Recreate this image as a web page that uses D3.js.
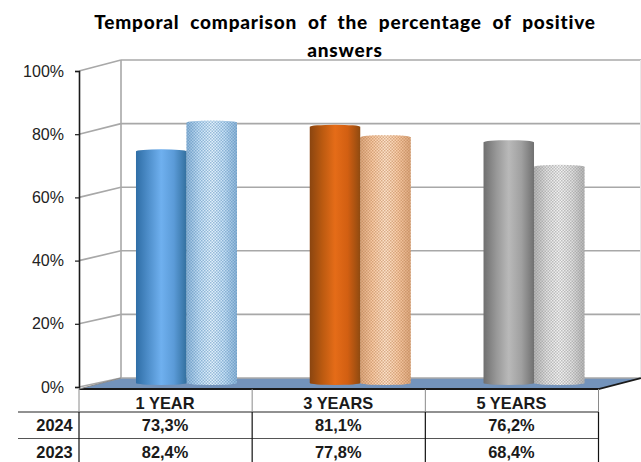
<!DOCTYPE html>
<html>
<head>
<meta charset="utf-8">
<script src="https://cdn.jsdelivr.net/npm/d3@7"></script>
<style>
body { margin: 0; background: #fff; }
svg { display: block; font-family: "Liberation Sans", Arial, sans-serif; }
</style>
</head>
<body>
<script>
// data
const categories = ['1 YEAR', '3 YEARS', '5 YEARS'];
const years = ['2024', '2023'];
const values2024 = [73.3, 81.1, 76.2];
const values2023 = [82.4, 77.8, 68.4];
const yTicks = [0, 20, 40, 60, 80, 100];
const titleLines = ['Temporal comparison of the percentage of positive', 'answers'];

const w = 641;
const h = 462;

const svg = d3.select('body').append('svg').attr('width', w).attr('height', h);
const defs = svg.append('defs');

// scales: front plane, back wall, and the plane the cylinders stand in
const xFront = d3.scaleBand().domain(categories).range([79, 598.5]);
const yFront = d3.scaleLinear().domain([0, 100]).range([387, 71]);
const yBack = d3.scaleLinear().domain([0, 100]).range([378, 60]);
const yBar = d3.scaleLinear().domain([0, 100]).range([383, 67]);
const xBar = d3.scaleBand().domain(categories).range([99.6, 620.9]);
const xInner = d3.scaleBand().domain(years).range([0, 101]);

const backLeft = 121;
const backRight = 641;

// gradients and dot patterns
const solidColors = [
  ['#2f6ea6', '#4f8fcb', '#6fb0ef', '#5b9bd8', '#33709f'],
  ['#8a4510', '#bb5a10', '#e56c18', '#d25f12', '#8f4a10'],
  ['#6f6f6f', '#979797', '#b9b9b9', '#a0a0a0', '#707070']
];
const lightColors = [
  ['#8fb6d8', '#c6e0f5', '#e4f2fc', '#c6e0f5', '#8fb6d8'],
  ['#dba77e', '#f8cba6', '#fde3cc', '#f8cba6', '#dba77e'],
  ['#b5b5b5', '#e0e0e0', '#f3f3f3', '#e0e0e0', '#b5b5b5']
];
const dotColors = ['#4f86b5', '#b5794a', '#8c8c8c'];

function addGradient(id, stops) {
  const g = defs.append('linearGradient').attr('id', id).attr('x1', 0).attr('x2', 1).attr('y1', 0).attr('y2', 0);
  stops.forEach((c, i) => g.append('stop').attr('offset', i / (stops.length - 1)).attr('stop-color', c));
}
solidColors.forEach((s, i) => addGradient('solid' + i, s));
lightColors.forEach((s, i) => addGradient('light' + i, s));
dotColors.forEach((c, i) => {
  const p = defs.append('pattern').attr('id', 'dots' + i).attr('patternUnits', 'userSpaceOnUse')
    .attr('width', 3).attr('height', 3);
  p.append('rect').attr('x', 0).attr('y', 0).attr('width', 1.5).attr('height', 1.5).attr('fill', c).attr('opacity', 0.5);
  p.append('rect').attr('x', 1.5).attr('y', 1.5).attr('width', 1.5).attr('height', 1.5).attr('fill', c).attr('opacity', 0.5);
});

// floor
const floor = d3.path();
floor.moveTo(79, yFront(0) + 2);
floor.lineTo(backLeft, yBack(0));
floor.lineTo(backRight, yBack(0));
floor.lineTo(598.5, yFront(0) + 2);
floor.closePath();
svg.append('path').attr('d', floor.toString()).attr('fill', '#7393bb');

// grid on the back wall and side wall
const grid = svg.append('g').attr('stroke', '#a8a8a8').attr('stroke-width', 1.6).attr('fill', 'none');
grid.selectAll('.back').data(yTicks).enter().append('line')
  .attr('x1', backLeft).attr('x2', backRight)
  .attr('y1', d => yBack(d)).attr('y2', d => yBack(d));
grid.selectAll('.side').data(yTicks).enter().append('line')
  .attr('x1', 79).attr('x2', backLeft)
  .attr('y1', d => yFront(d)).attr('y2', d => yBack(d));
grid.append('line').attr('x1', backLeft).attr('x2', backLeft).attr('y1', yBack(100)).attr('y2', yBack(0));
grid.append('line').attr('x1', 640.5).attr('x2', 640.5).attr('y1', yBack(100)).attr('y2', yBack(0))
  .attr('stroke', '#e8e8e8').attr('stroke-width', 1);

// cylinders
const ry = 2;
function cylinder(x0, x1, yTop, yBottom) {
  const rx = (x1 - x0) / 2;
  return `M${x0},${yTop}A${rx},${ry} 0 0 1 ${x1},${yTop}L${x1},${yBottom}A${rx},${ry} 0 0 1 ${x0},${yBottom}Z`;
}
const series = [
  { year: '2024', values: values2024, fill: i => `url(#solid${i})` },
  { year: '2023', values: values2023, fill: i => `url(#light${i})` }
];
// 2023 goes first, the 2024 cylinder overlaps it by a pixel
[series[1], series[0]].forEach(s => {
  const g = svg.append('g').attr('class', 'series-' + s.year);
  const cx0 = (d, i) => xBar(categories[i]) + (xBar.bandwidth() - 101) / 2 + xInner(s.year);
  g.selectAll('path.body').data(s.values).enter().append('path').attr('class', 'body')
    .attr('d', (d, i) => cylinder(cx0(d, i), cx0(d, i) + xInner.bandwidth(), yBar(d), yBar(0)))
    .attr('fill', (d, i) => s.fill(i));
  if (s.year === '2023') {
    g.selectAll('path.dots').data(s.values).enter().append('path').attr('class', 'dots')
      .attr('d', (d, i) => cylinder(cx0(d, i), cx0(d, i) + xInner.bandwidth(), yBar(d), yBar(0)))
      .attr('fill', (d, i) => `url(#dots${i})`);
  }
});

// axis drawn by d3, ticks reach left from the front corner
const yAxis = d3.axisLeft(yFront).tickValues(yTicks).tickFormat(d => d + '%').tickSize(4).tickPadding(11);
const axisG = svg.append('g').attr('transform', 'translate(79,0)').call(yAxis);
axisG.select('.domain').attr('stroke', '#1a1a1a').attr('stroke-width', 1.6);
axisG.selectAll('.tick line').attr('stroke', '#1a1a1a').attr('stroke-width', 1.2);
axisG.selectAll('.tick text').attr('fill', '#222').style('font-size', '16px').style('font-family', '"Liberation Sans", Arial, sans-serif');

// floor front edge
const edge = d3.path();
edge.moveTo(79, 389);
edge.lineTo(598.5, 389);
edge.lineTo(backRight, yBack(0));
svg.append('path').attr('d', edge.toString()).attr('fill', 'none').attr('stroke', '#1a1a1a').attr('stroke-width', 1.8);
svg.append('line').attr('x1', 79).attr('x2', backLeft).attr('y1', 389).attr('y2', yBack(0))
  .attr('stroke', '#8a8a8a').attr('stroke-width', 1);

// data table
const rowY = d3.scaleOrdinal().domain(['head'].concat(years)).range([389, 412, 438.5]);
const tableBottom = h;
const table = svg.append('g').attr('class', 'table');

// row rules
table.selectAll('.rule').data(years).enter().append('line')
  .attr('x1', 18).attr('x2', 598.5)
  .attr('y1', d => rowY(d)).attr('y2', d => rowY(d))
  .attr('stroke', (d, i) => i === 0 ? '#222' : '#555').attr('stroke-width', 1);

// column rules
const colEdges = [79].concat(categories.map(c => xFront(c) + xFront.bandwidth()));
table.selectAll('.colHead').data(colEdges).enter().append('line')
  .attr('x1', d => d).attr('x2', d => d).attr('y1', 389).attr('y2', 412)
  .attr('stroke', '#8a8a8a').attr('stroke-width', 1);
table.selectAll('.colBody').data(colEdges).enter().append('line')
  .attr('x1', d => d).attr('x2', d => d).attr('y1', 412).attr('y2', tableBottom)
  .attr('stroke', '#111').attr('stroke-width', 1.2);

const cell = table.append('g').attr('font-weight', 'bold').attr('font-size', '16.4px')
  .attr('fill', '#1a1a1a').attr('text-anchor', 'middle');
cell.selectAll('.cat').data(categories).enter().append('text')
  .attr('x', d => xFront(d) + xFront.bandwidth() / 2 - 0.5)
  .attr('y', 409)
  .text(d => d);
cell.selectAll('.yr').data(years).enter().append('text')
  .attr('x', 54.5)
  .attr('y', d => rowY(d) + 19.2)
  .text(d => d);
series.forEach(s => {
  cell.selectAll('.val' + s.year).data(s.values).enter().append('text')
    .attr('x', (d, i) => xFront(categories[i]) + xFront.bandwidth() / 2 - 0.5)
    .attr('y', rowY(s.year) + 19.2)
    .text(d => d3.format('.1f')(d).replace('.', ',') + '%');
});

// title
svg.append('g').attr('text-anchor', 'middle')
  .selectAll('text').data(titleLines).enter().append('text')
  .attr('x', 345)
  .attr('y', (d, i) => 29 + i * 28)
  .style('font-family', '"Comic Sans MS", Lato, sans-serif')
  .style('font-weight', 900)
  .style('font-size', '19px')
  .style('word-spacing', '5.5px')
  .style('letter-spacing', '0.8px')
  .attr('fill', '#000')
  .text(d => d);
</script>
</body>
</html>
